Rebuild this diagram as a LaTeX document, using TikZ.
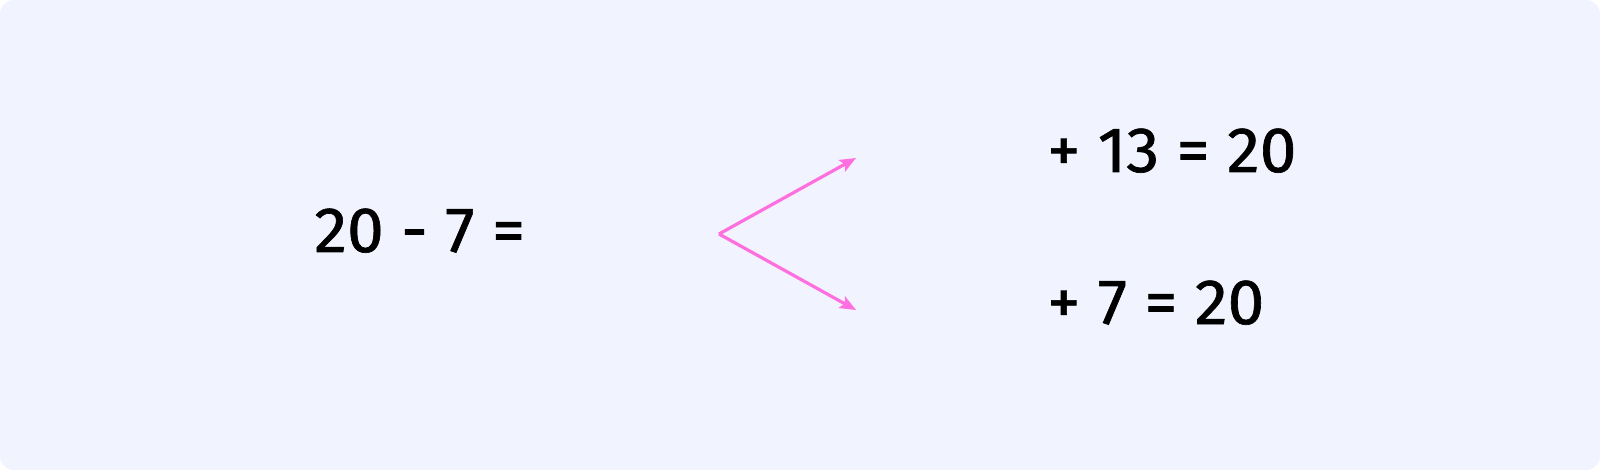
\documentclass[tikz,border=0pt]{standalone}
\usepackage{fontspec}
\setmainfont{Fira Sans}
\newfontfamily\eqfont{Fira Sans}[FakeBold=1.0, FakeStretch=1.03]
\usetikzlibrary{arrows.meta}
\definecolor{bg}{HTML}{F1F4FE}
\definecolor{pinkline}{HTML}{FF6FDF}
\begin{document}
\begin{tikzpicture}[x=0.5pt,y=-0.5pt,
  eq/.style={inner sep=0pt, anchor=base west, font=\eqfont\fontsize{32}{38}\selectfont},
  link/.style={draw=pinkline, line width=1.6pt, -{Stealth[length=8pt,width=6.5pt,inset=1.5pt]}}]
\path[use as bounding box] (0,0) rectangle (1600,470);
\fill[bg, rounded corners=7pt] (0,0) rectangle (1600,470);
\node[eq] (q) at (314,252) {20 - 7 =};
\node[eq] (a1) at (1047,172) {+ 13 = 20};
\node[eq] (a2) at (1047,324) {+ 7 = 20};
\coordinate (v) at (719,234);
\coordinate (t1) at (856,158);
\coordinate (t2) at (856,310);
\draw[link] (v) -- (t1);
\draw[link] (v) -- (t2);
\end{tikzpicture}
\end{document}
